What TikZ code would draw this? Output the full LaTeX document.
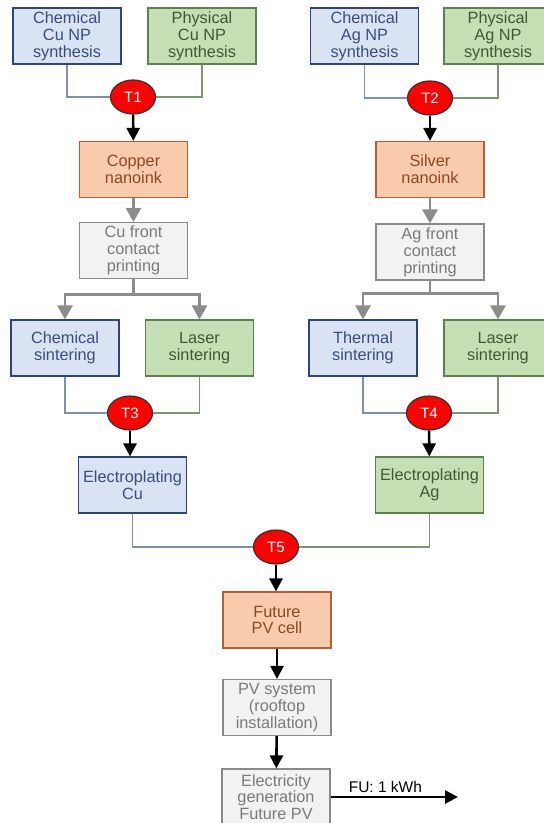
\documentclass[tikz,border=0pt]{standalone}
\usepackage{fontspec}
\setmainfont{Liberation Sans}
\usetikzlibrary{arrows.meta,shapes.geometric}

\definecolor{bluefill}{HTML}{DAE3F3}
\definecolor{blueline}{HTML}{2F4470}
\definecolor{bluetext}{HTML}{3B4E78}
\definecolor{bluejoin}{HTML}{8090AA}
\definecolor{greenfill}{HTML}{C5E0B4}
\definecolor{greenline}{HTML}{5F7F52}
\definecolor{greentext}{HTML}{3F5A32}
\definecolor{greenjoin}{HTML}{7F9470}
\definecolor{orangefill}{HTML}{F8CBAD}
\definecolor{orangeline}{HTML}{B0603A}
\definecolor{orangetext}{HTML}{8A4A28}
\definecolor{greyfill}{HTML}{F2F2F2}
\definecolor{greyline}{HTML}{8A8A8A}
\definecolor{greytext}{HTML}{7A7A7A}
\definecolor{greyarrow}{HTML}{8C8C8C}

\begin{document}
\begin{tikzpicture}
  [x=1pt,y=-1pt,
  font=\fontsize{16.3}{16.8}\selectfont,
  box node/.style={rectangle,draw,align=center,line width=1.2pt,
  minimum width=108pt,minimum height=56pt,inner sep=0pt},
	blue node/.style={box node,fill=bluefill,draw=blueline,text=bluetext},
	green node/.style={box node,fill=greenfill,draw=greenline,text=greentext},
	orange node/.style={box node,fill=orangefill,draw=orangeline,text=orangetext},
	grey node/.style={box node,fill=greyfill,draw=greyline,text=greytext},
	tech node/.style={ellipse,fill=red,draw=black!80,line width=1.2pt,text=white,
  font=\fontsize{15}{16}\selectfont,minimum width=45pt,minimum height=34pt,inner sep=0pt},
	blue join/.style={draw=bluejoin,line width=1.5pt},
	green join/.style={draw=greenjoin,line width=1.5pt},
	main arrow/.style={-{Triangle[width=13pt,length=13pt]},black,line width=2.6pt},
	grey arrow/.style={-{Triangle[width=15pt,length=14pt]},greyarrow,line width=2.8pt}]

  \useasboundingbox (0,0) rectangle (544,823);

  % copper route
  \node[blue node] (chemCu) at (67,36) {Chemical\\Cu NP\\synthesis};
  \node[green node] (physCu) at (202,36) {Physical\\Cu NP\\synthesis};
  \node[tech node] (T1) at (133,97) {T1};
  \node[orange node] (copper) at (133.5,169.5) {Copper\\nanoink};
  \node[grey node] (cuPrint) at (133.5,250.5) {Cu front\\contact\\printing};
  \node[blue node] (chemSint) at (65,348) {Chemical\\sintering};
  \node[green node] (laserCu) at (199.5,348) {Laser\\sintering};
  \node[tech node] (T3) at (130,413) {T3};
  \node[blue node] (epCu) at (132.5,485) {Electroplating\\Cu};

  % silver route
  \node[blue node] (chemAg) at (364.5,36) {Chemical\\Ag NP\\synthesis};
  \node[green node] (physAg) at (498,36) {Physical\\Ag NP\\synthesis};
  \node[tech node] (T2) at (430,98) {T2};
  \node[orange node] (silver) at (430,169.5) {Silver\\nanoink};
  \node[grey node] (agPrint) at (430,252) {Ag front\\contact\\printing};
  \node[blue node] (thermSint) at (363,348) {Thermal\\sintering};
  \node[green node] (laserAg) at (498,348) {Laser\\sintering};
  \node[tech node] (T4) at (429,413) {T4};
  \node[green node] (epAg) at (429.5,485) {Electroplating\\Ag};

  % common part
  \node[tech node] (T5) at (276,547) {T5};
  \node[orange node] (futurePV) at (277,620) {Future\\PV cell};
  \node[grey node] (pvSys) at (277,707.5) {PV system\\(rooftop\\installation)};
  \node[grey node] (elec) at (276,797) {Electricity\\generation\\Future PV};
  \coordinate (fu) at (458,797);

  \draw[blue join] (chemCu) |- (T1);
  \draw[green join] (physCu) |- (T1);
  \draw[blue join] (chemAg) |- (T2);
  \draw[green join] (physAg) |- (T2);
  \draw[blue join] (chemSint) |- (T3);
  \draw[green join] (laserCu) |- (T3);
  \draw[blue join] (thermSint) |- (T4);
  \draw[green join] (laserAg) |- (T4);
  \draw[blue join] (epCu) |- (T5);
  \draw[green join] (epAg) |- (T5);

  \draw[main arrow] (T1) -- (copper);
  \draw[main arrow] (T2) -- (silver);
  \draw[main arrow] (T3) -- (T3 |- epCu.north);
  \draw[main arrow] (T4) -- (epAg);
  \draw[main arrow] (T5) -- (T5 |- futurePV.north);
  \draw[main arrow] (futurePV) -- (pvSys);
  \draw[main arrow] (pvSys) -- (elec);
  \draw[main arrow] (elec) -- node[pos=0.43,above,text=black,font=\fontsize{15.5}{16}\selectfont] {FU: 1 kWh} (fu);

  \draw[grey arrow] (copper) -- (cuPrint);
  \draw[grey arrow] (silver) -- (agPrint);
  \draw[greyarrow,line width=2.8pt] (cuPrint.south) -- ++(0,15) coordinate (cuFork);
  \draw[greyarrow,line width=2.8pt] (agPrint.south) -- ++(0,13) coordinate (agFork);
  \draw[grey arrow] (cuFork) -| (chemSint);
  \draw[grey arrow] (cuFork) -| (laserCu);
  \draw[grey arrow] (agFork) -| (thermSint);
  \draw[grey arrow] (agFork) -| (laserAg);
\end{tikzpicture}
\end{document}
